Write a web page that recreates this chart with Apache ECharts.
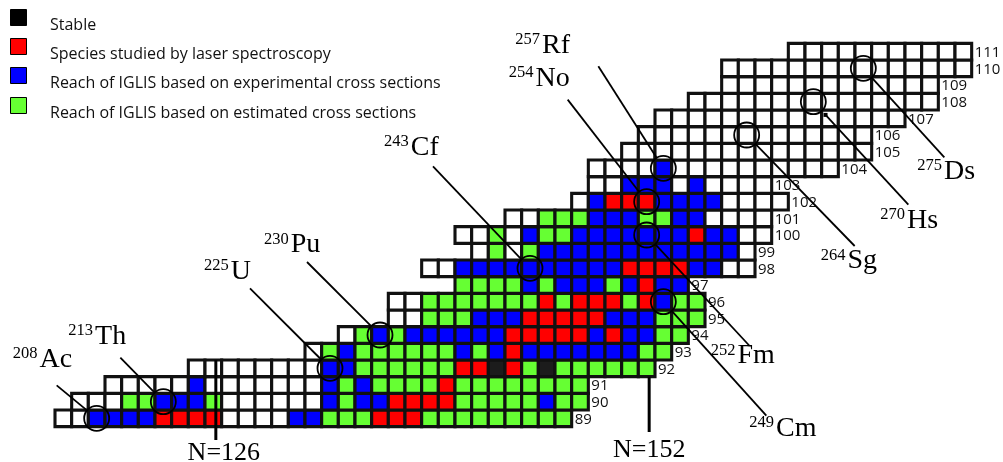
<!DOCTYPE html>
<html>
<head>
<meta charset="utf-8">
<style>
  html, body { margin: 0; padding: 0; background: #fff; }
  #chart { width: 1003px; height: 462px; }
</style>
<script src="https://cdn.jsdelivr.net/npm/echarts@6/dist/echarts.min.js"></script>
</head>
<body>
<div id="chart"></div>
<script>
// rows of the chart, bottom (Ac) to top (Z=111)
const protonNumbers = [89, 90, 91, 92, 93, 94, 95, 96, 97, 98, 99, 100, 101, 102, 103, 104, 105, 106, 107, 108, 109, 110, 111];
// neutron number of the first cell in each row
const firstNeutron = [117, 118, 120, 125, 132, 134, 137, 137, 141, 139, 142, 141, 144, 148, 149, 149, 151, 152, 153, 155, 157, 157, 161];
// one letter per cell: W blank, K stable, R laser spectroscopy, B experimental, G estimated
const rowStatus = [
  'WWBBBBRRRRWWWWBBGGGRRRGGGGGGGGG',
  'WWWGGBBBGWWWWWWBGBBRRRRGGGGGBGG',
  'WWWWWBWWWWWWWBGBGGGGRGGGGGGGG',
  'WWWWWWWWBBGGGGGGRRKRGKGGGGGG',
  'WGBGGGGGGBGBRBBBBBBBGG',
  'WGBGBBBBBBRRRRRBRBBGG',
  'WWGGGBBBRRRRRBBBGGG',
  'WWGGGGGGGRGRRRGRBGG',
  'GGGGBGBBBGBRBB',
  'WWBBBBBBBBBBRRRRBBWW',
  'WGWGBBBBBBBBBBBBW',
  'WWGWBGGBBBBBBBRBBWW',
  'WWGGGBBBGGBBWWWW',
  'WBRRRBBBBWWWW',
  'WWBBBWBWWWW',
  'WWWWBWWWWWWWWWW',
  'WWWWWWWWWWWWWWW',
  'WWWWWWWWWWWWWW',
  'WWWWWWWWWWWWWWW',
  'WWWWWWWWWWWWWWW',
  'WWWWWWWWWWWWW',
  'WWWWWWWWWWWWWWW',
  'WWWWWWWWWWW'
];

// highlighted nuclides
const nuclideSymbol = ['Ac', 'Th', 'U', 'Pu', 'Cf', 'Cm', 'Fm', 'No', 'Rf', 'Sg', 'Hs', 'Ds'];
const nuclideMass = [208, 213, 225, 230, 243, 249, 252, 254, 257, 264, 270, 275];
const nuclideZ = [89, 90, 92, 94, 98, 96, 100, 102, 104, 106, 108, 110];
const nuclideN = [119, 123, 133, 136, 145, 153, 152, 152, 153, 158, 162, 165];

// closed neutron shells marked below the chart
const magicNeutrons = [126, 152];
const magicTopZ = [92.5, 91.5];

const legendLabels = [
  'Stable',
  'Species studied by laser spectroscopy',
  'Reach of IGLIS based on experimental cross sections',
  'Reach of IGLIS based on estimated cross sections'
];

// ---- layout (pixels) ----
const statusCodes = 'WKRBG';
const statusColors = ['#ffffff', '#1c1c1c', '#ff0000', '#0000ff', '#66ff33'];
// label box top-left and leader-line end, relative to the circle centre
const labelOffset = [[-84, -73], [-95, -79], [-126, -111], [-116, -104], [-146, -135], [86, 113],
  [64, 107], [-138, -137], [-148, -137], [74, 112], [67, 105], [54, 89]];
const leaderEnd = [[-40, -33], [-43, -44], [-80, -80], [-73, -73], [-97, -102], [103, 114],
  [103, 111], [-79, -102], [-65, -102], [108, 111], [95, 103], [81, 89]];
const leaderGap = [12.5, 12.5, 12.5, 12.5, 12.5, 12.5, 12.5, 12.5, 12.5, 12.5, 18, 12.5];
const magicBottom = [440, 432];
const magicLabelDx = [8, 0];
const magicLabelY = [453, 450];
const legendTop = [9, 38, 67, 97];

const cellData = [];
const rowEndData = [];
protonNumbers.forEach((z, i) => {
  const codes = rowStatus[i];
  for (let k = 0; k < codes.length; k++) {
    cellData.push([firstNeutron[i] + k, z, statusCodes.indexOf(codes[k])]);
  }
  rowEndData.push([firstNeutron[i] + codes.length - 1, z]);
});
const nuclideData = nuclideN.map((n, i) => [n, nuclideZ[i]]);
const magicData = magicNeutrons.map((n, i) => [n, magicTopZ[i]]);

const serif = '"Liberation Serif", "Times New Roman", serif';
const sans = '"Open Sans", "DejaVu Sans", sans-serif';

function renderCell(params, api) {
  const c = api.coord([api.value(0), api.value(1)]);
  const s = api.size([1, 1]);
  return {
    type: 'rect',
    shape: { x: c[0] - s[0] / 2, y: c[1] - s[1] / 2, width: s[0], height: s[1] },
    style: { fill: statusColors[api.value(2)], stroke: '#111', lineWidth: 3.1 }
  };
}

function renderRowLabel(params, api) {
  const c = api.coord([api.value(0) + 0.5, api.value(1)]);
  return {
    type: 'text',
    x: c[0] + 3,
    y: c[1] + 1,
    style: {
      text: String(api.value(1)),
      fill: '#111',
      font: '15px ' + sans,
      align: 'left',
      verticalAlign: 'middle'
    }
  };
}

function renderMagic(params, api) {
  const i = params.dataIndex;
  const c = api.coord([api.value(0), api.value(1)]);
  const x = c[0] + 2.5;
  return {
    type: 'group',
    children: [
      { type: 'line', shape: { x1: x, y1: c[1], x2: x, y2: magicBottom[i] },
        style: { stroke: '#000', lineWidth: 3 } },
      { type: 'text', x: x + magicLabelDx[i], y: magicLabelY[i],
        style: { text: 'N=' + magicNeutrons[i], fill: '#000', font: '26px ' + serif,
          align: 'center', verticalAlign: 'middle' } }
    ]
  };
}

function renderNuclide(params, api) {
  const i = params.dataIndex;
  const c = api.coord([api.value(0), api.value(1)]);
  const ex = c[0] + leaderEnd[i][0], ey = c[1] + leaderEnd[i][1];
  const dx = ex - c[0], dy = ey - c[1];
  const len = Math.hypot(dx, dy);
  const sx = c[0] + dx / len * leaderGap[i], sy = c[1] + dy / len * leaderGap[i];
  const children = [
    { type: 'circle', shape: { cx: c[0], cy: c[1], r: 12.5 },
      style: { fill: 'none', stroke: '#000', lineWidth: 1.8 } },
    { type: 'line', shape: { x1: sx, y1: sy, x2: ex, y2: ey },
      style: { stroke: '#000', lineWidth: 1.8 } },
    { type: 'text', x: c[0] + labelOffset[i][0], y: c[1] + labelOffset[i][1],
      style: {
        text: '{s|' + nuclideMass[i] + '}{e|' + nuclideSymbol[i] + '}',
        align: 'left', verticalAlign: 'top',
        rich: {
          s: { fontSize: 16.5, fontFamily: serif, fill: '#000', lineHeight: 16,
            verticalAlign: 'top', padding: [0, 2, 0, 0] },
          e: { fontSize: 28, fontFamily: serif, fill: '#000', lineHeight: 28, verticalAlign: 'middle' }
        }
      } }
  ];
  if (leaderGap[i] > 12.5) {
    children.push({ type: 'rect', shape: { x: sx - 2, y: sy - 2, width: 4, height: 4 },
      style: { fill: '#000' } });
  }
  return { type: 'group', children };
}

const legendGraphics = [];
legendLabels.forEach((label, i) => {
  legendGraphics.push({
    type: 'rect', left: 10, top: legendTop[i],
    shape: { width: 16, height: 16 },
    style: { fill: i === 0 ? '#000' : statusColors[i + 1], stroke: '#000', lineWidth: 1 }
  });
  legendGraphics.push({
    type: 'text', left: 50, top: legendTop[i] + 8,
    style: { text: label, fill: '#111', font: '16px ' + sans, verticalAlign: 'middle' }
  });
});

const chart = echarts.init(document.getElementById('chart'));
chart.setOption({
  animation: false,
  grid: { left: 55, right: 31.33, top: 43.33, bottom: 35.33 },
  xAxis: { type: 'value', min: 116.5, max: 171.5, show: false },
  yAxis: { type: 'value', min: 88.5, max: 111.5, show: false },
  graphic: legendGraphics,
  series: [
    { type: 'custom', name: 'cells', renderItem: renderCell, data: cellData,
      encode: { x: 0, y: 1 }, silent: true },
    { type: 'custom', name: 'rows', renderItem: renderRowLabel, data: rowEndData,
      encode: { x: 0, y: 1 }, silent: true, clip: false },
    { type: 'custom', name: 'shells', renderItem: renderMagic, data: magicData,
      encode: { x: 0, y: 1 }, silent: true, clip: false },
    { type: 'custom', name: 'nuclides', renderItem: renderNuclide, data: nuclideData,
      encode: { x: 0, y: 1 }, silent: true, clip: false }
  ]
});
</script>
</body>
</html>
